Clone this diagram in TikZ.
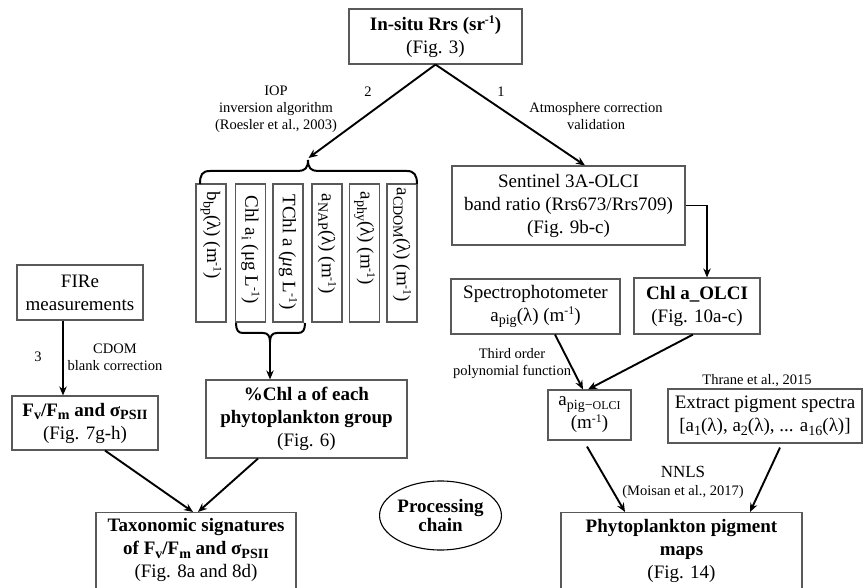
\documentclass[tikz,border=0pt]{standalone}
\usepackage{fontspec}
\setmainfont{Liberation Serif}
\usetikzlibrary{arrows.meta,shapes.geometric}
\newcommand{\mysub}[1]{\raisebox{-0.4ex}{\scalebox{0.74}{#1}}}
\newcommand{\mysup}[1]{\raisebox{0.75ex}{\scalebox{0.62}{#1}}}
\newcommand{\mainf}{\fontsize{19}{23}\selectfont}
\newcommand{\smallf}{\fontsize{14.5}{17}\selectfont}
\begin{document}
\begin{tikzpicture}[x=1pt,y=-1pt,
 box/.style={draw=black!65, line width=1.1pt, inner sep=0pt, align=center, font=\mainf},
 vbox/.style={draw=black!65, line width=1.1pt, inner sep=0pt, minimum width=30pt, minimum height=138pt},
 vtxt/.style={rotate=-90, anchor=west, inner sep=0pt, font=\mainf},
 arr/.style={line width=1.9pt, -{Stealth[length=9pt,width=7.5pt]}},
 brc/.style={line width=2pt},
 lbl/.style={align=center, font=\smallf, inner sep=0pt}]
\useasboundingbox (0,0) rectangle (863,588);
\clip (0,0) rectangle (863,588);

% boxes
\node[box, minimum width=173pt, minimum height=55pt] (tp) at (435.5,36.5) {\textbf{In-situ Rrs (sr\mysup{-1})}\\(Fig. 3)};
\node[box, minimum width=233pt, minimum height=79pt] (sen) at (568.5,205.5) {Sentinel 3A-OLCI\\band ratio (Rrs673/Rrs709)\\(Fig. 9b-c)};
\node[box, minimum width=126pt, minimum height=56pt] (chl) at (697,306) {\textbf{Chl a\_OLCI}\\(Fig. 10a-c)};
\node[box, minimum width=169pt, minimum height=55pt] (spe) at (535.5,306.5) {Spectrophotometer\\a\mysub{pig}(λ) (m\mysup{-1})};
\node[box, minimum width=83pt, minimum height=50pt] (apg) at (589.5,415) {a\mysub{pig−\scalebox{0.85}{OLCI}}\\(m\mysup{-1})};
\node[box, minimum width=194pt, minimum height=54pt] (ext) at (765,416) {Extract pigment spectra\\{}[a\mysub{1}(λ), a\mysub{2}(λ), ... a\mysub{16}(λ)]};
\node[box, minimum width=241pt, minimum height=110pt, anchor=north] (phy) at (681.5,512) {};
\node[align=center, font=\mainf, inner sep=0pt] (phyt) at (681.5,551) {\textbf{Phytoplankton pigment}\\\textbf{maps}\\(Fig. 14)};
\node[box, minimum width=200pt, minimum height=110pt, anchor=north] (tax) at (196,512) {};
\node[align=center, font=\mainf, inner sep=0pt] (taxt) at (196,550) {\textbf{Taxonomic signatures}\\\textbf{of F\mysub{v}/F\mysub{m} and σ\mysub{PSII}}\\(Fig. 8a and 8d)};
\node[box, minimum width=126pt, minimum height=55pt] (fir) at (80,292.5) {FIRe\\measurements};
\node[box, minimum width=146pt, minimum height=54pt] (fvf) at (85,423) {\textbf{F\mysub{v}/F\mysub{m} and σ\mysub{PSII}}\\(Fig. 7g-h)};
\node[box, minimum width=201pt, minimum height=78pt] (pch) at (306.5,419) {\textbf{\%Chl a of each}\\\textbf{phytoplankton group}\\(Fig. 6)};
\node[draw=black, line width=1.1pt, ellipse, minimum width=117pt, minimum height=69pt, inner sep=0pt, align=center, font=\fontsize{19}{20}\selectfont\bfseries] (pc) at (440.5,515.5) {Processing\\chain};

% vertical boxes
\node[vbox] (v1) at (211,253) {};
\node[vbox] (v2) at (250.5,253) {};
\node[vbox] (v3) at (288,253) {};
\node[vbox] (v4) at (327,253) {};
\node[vbox] (v5) at (364.5,253) {};
\node[vbox] (v6) at (402,253) {};
\node[vtxt] (t1) at ([yshift=-8pt]v1.north) {b\mysub{bp}(λ) (m\mysup{-1})};
\node[vtxt] (t2) at ([yshift=-12pt]v2.north) {Chl a\mysub{i} (μg L\mysup{-1})};
\node[vtxt] (t3) at ([yshift=-11pt]v3.north) {TChl a (\textit{μ}g L\mysup{-1})};
\node[vtxt] (t4) at ([yshift=-10pt]v4.north) {a\mysub{NAP}(λ) (m\mysup{-1})};
\node[vtxt] (t5) at ([yshift=-8pt]v5.north) {a\mysub{phy}(λ) (m\mysup{-1})};
\node[vtxt] (t6) at ([yshift=-4pt]v6.north) {a\mysub{CDOM}(λ) (m\mysup{-1})};

% braces
\coordinate (bbtip) at (308.5,158);
\draw[brc] (200,184) .. controls (200,175) and (202,171) .. (210,171) -- (298,171) .. controls (305,171) and (308,168) .. (308,160) .. controls (308,168) and (311,171) .. (318,171) -- (407,171) .. controls (414,171) and (417,175) .. (417,184);
\coordinate (sbtip) at (270,342);
\draw[brc] (236,323) .. controls (236,330) and (238,333) .. (243,333) -- (263,333) .. controls (268,333) and (270,336) .. (270,342) .. controls (270,336) and (272,333) .. (277,333) -- (298,333) .. controls (303,333) and (305,330) .. (305,323);

% connectors
\draw[arr] (tp.south) -- (bbtip);
\draw[arr] (tp.south) -- ([xshift=16.5pt]sen.north);
\draw[arr] (sen.east) -| ([xshift=10pt]chl.north);
\draw[arr] ([xshift=19.5pt]spe.south) -- ([xshift=-6.5pt]apg.north);
\draw[arr] ([xshift=-4pt]chl.south) -- ([xshift=-1.5pt]apg.north);
\draw[arr] ([xshift=-2.5pt,yshift=-6pt]apg.south) -- ([xshift=-56.5pt]phy.north);
\draw[arr] ([xshift=15pt,yshift=-4pt]ext.south) -- ([xshift=68.5pt]phy.north);
\draw[arr] ([xshift=-17pt]fir.south) -- ([xshift=-22pt]fvf.north);
\draw[arr] ([xshift=20pt]fvf.south) -- ([xshift=-3pt]tax.north);
\draw[arr] ([xshift=-48.5pt]pch.south) -- ([xshift=2pt]tax.north);
\draw[arr] (sbtip) -- (sbtip |- pch.north);

% labels
\node[lbl] (n2) at (368,92) {2};
\node[lbl] (n1) at (501,92) {1};
\node[lbl] (l1) at (276,109) {IOP\\inversion algorithm\\(Roesler et al., 2003)};
\node[lbl] (l2) at (596,116) {Atmosphere correction\\validation};
\node[lbl] (n3) at (38,357) {3};
\node[lbl] (l3) at (115,357) {CDOM\\blank correction};
\node[lbl] (l4) at (512,364) {Third order\\polynomial function};
\node[lbl] (l5) at (757,381) {Thrane et al., 2015};
\node[lbl, font=\fontsize{17}{17}\selectfont] (l6) at (683,472) {NNLS};
\node[lbl] (l7) at (683,492) {(Moisan et al., 2017)};
\end{tikzpicture}
\end{document}
